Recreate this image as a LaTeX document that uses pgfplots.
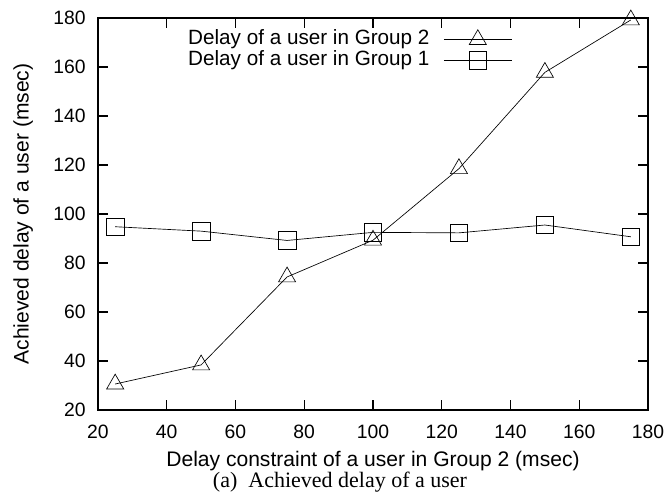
\documentclass[border=0pt]{standalone}
\usepackage{fontspec}
\setmainfont{Liberation Sans}
\newfontfamily\capfont{Liberation Serif}
\usepackage{pgfplots}
\pgfplotsset{compat=1.18}
\begin{document}
\fontsize{15.5}{18}\selectfont
\begin{tikzpicture}
\begin{axis}[
  name=ax,
  scale only axis,
  width=412.5pt, height=294pt,
  xmin=20, xmax=180, ymin=20, ymax=180,
  xtick={20,40,...,180}, ytick={20,40,...,180},
  tick align=inside,
  major tick length=7.5pt,
  tick style={line width=0.8pt, black},
  axis line style={line width=1.1pt},
  /pgf/number format/assume math mode=true,
  ticklabel style={font=\fontsize{14.5}{17}\selectfont},
  xticklabel style={yshift=-6pt},
  yticklabel style={xshift=-4pt},
  label style={font=\fontsize{15.8}{18}\selectfont},
  xlabel={Delay constraint of a user in Group 2 (msec)},
  ylabel={Achieved delay of a user (msec)},
  xlabel style={at={(axis description cs:0.5,0)}, anchor=base, yshift=-42.5pt},
  ylabel style={at={(axis description cs:-0.126,0.5)}, anchor=base},
  legend plot pos=right,
  legend cell align=right,
  legend style={draw=none, fill=none, at={(0.753,0.970)}, anchor=north east,
    font=\fontsize{15.5}{18}\selectfont, row sep=1.25pt, inner sep=0pt, outer sep=0pt,
    column sep=0pt,
    nodes={inner sep=0pt, text height=11pt, text depth=3.5pt}},
  legend image code/.code={
    \path (0pt,0pt);
    \draw[mark repeat=2,mark phase=2] plot coordinates {(10.5pt,0pt) (36pt,0pt) (61.5pt,0pt)};
  },
]
\addplot[black, line width=0.5pt, mark=triangle, mark size=7.4pt, mark options={solid, line width=0.5pt}]
  coordinates {(25,30.6) (50,38.4) (75,74.3) (100,89.3) (125,118.5) (150,157.8) (175,179.2)};
\addlegendentry{Delay of a user in Group 2}
\addplot[black, line width=0.5pt, mark=square, mark size=6.6pt, mark options={solid, line width=0.5pt}]
  coordinates {(25,94.8) (50,93) (75,89.2) (100,92.5) (125,92.3) (150,95.5) (175,90.7)};
\addlegendentry{Delay of a user in Group 1}
\end{axis}
\node[font=\capfont\fontsize{16.5}{19}\selectfont, anchor=base, inner sep=0pt] at ([xshift=-24.75pt,yshift=-58.5pt]ax.south) {(a)\ \ Achieved delay of a user};
\pgfresetboundingbox
\path ([xshift=-73.5pt,yshift=-63pt]ax.south west) rectangle ([xshift=15pt,yshift=13.5pt]ax.north east);
\end{tikzpicture}
\end{document}
